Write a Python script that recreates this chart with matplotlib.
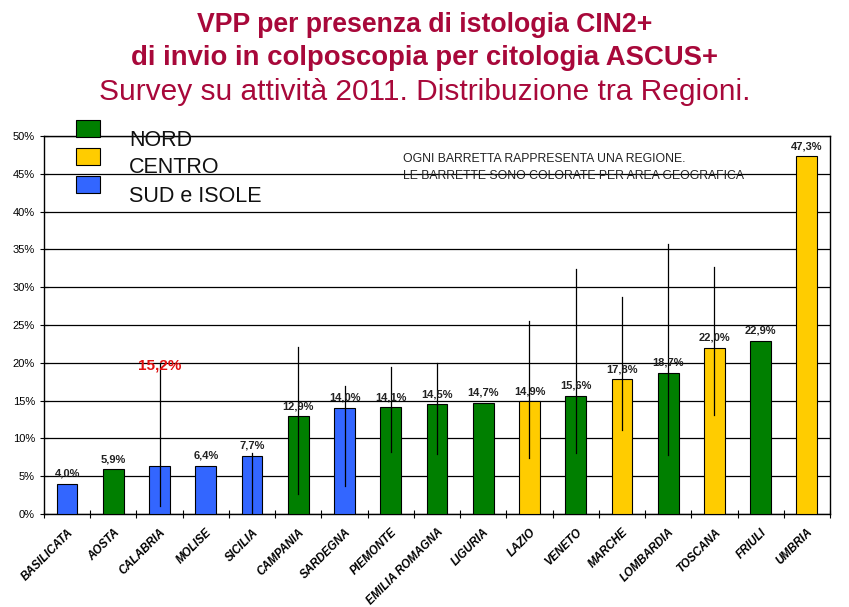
import matplotlib
matplotlib.use("Agg")
import matplotlib.pyplot as plt
from matplotlib.patches import Rectangle

plt.rcParams["font.family"] = ["Liberation Sans", "DejaVu Sans"]

# ----- data -----
regions = ["BASILICATA", "AOSTA", "CALABRIA", "MOLISE", "SICILIA", "CAMPANIA",
           "SARDEGNA", "PIEMONTE", "EMILIA ROMAGNA", "LIGURIA", "LAZIO", "VENETO",
           "MARCHE", "LOMBARDIA", "TOSCANA", "FRIULI", "UMBRIA"]
areas = ["SUD", "NORD", "SUD", "SUD", "SUD", "NORD",
         "SUD", "NORD", "NORD", "NORD", "CENTRO", "NORD",
         "CENTRO", "NORD", "CENTRO", "NORD", "CENTRO"]
vpp = [4.0, 5.9, 6.3, 6.4, 7.7, 12.9, 14.0, 14.1, 14.5, 14.7, 14.9, 15.6,
       17.8, 18.7, 22.0, 22.9, 47.3]
# confidence interval ends (None = not drawn)
ci_low = [None, None, 1.1, None, 0.0, 2.6, 3.7, 8.2, 7.9, None, 7.4, 8.1,
          11.1, 7.8, 13.1, None, None]
ci_high = [None, None, 20.0, None, 8.1, 22.1, 16.9, 19.4, 20.0, None, 25.5, 32.4,
           28.7, 35.7, 32.7, None, None]

area_colors = {"NORD": "#007F00", "CENTRO": "#FFCC00", "SUD": "#3366FF"}
legend_labels = ["NORD", "CENTRO", "SUD e ISOLE"]
legend_keys = ["NORD", "CENTRO", "SUD"]

title_red = "#A8083A"

fig = plt.figure(figsize=(8.49, 6.07), dpi=100)
ax = fig.add_axes([0.0518, 0.1532, 0.9258, 0.6228])

x = list(range(len(regions)))
ax.bar(x, vpp, width=0.45, color=[area_colors[a] for a in areas],
       edgecolor="black", linewidth=0.8, zorder=3)

for i in x:
    if ci_low[i] is not None:
        ax.plot([i, i], [ci_low[i], ci_high[i]], color="black", lw=0.9, zorder=4)
    if i == 2:
        continue
    ax.text(i, vpp[i] + 0.7, f"{vpp[i]:.1f}%".replace(".", ","), ha="center",
            va="bottom", fontsize=8, fontweight="bold", color="#222222", zorder=5)

ax.text(2, 19.6, "15,2%", ha="center", va="center", fontsize=11,
        fontweight="bold", color="#E01010", zorder=5)

ax.set_xlim(-0.5, len(regions) - 0.5)
ax.set_ylim(0, 50)
ax.set_yticks(range(0, 51, 5))
ax.set_yticklabels([f"{v}%" for v in range(0, 51, 5)], fontsize=8)
ax.yaxis.grid(True, color="black", lw=0.9, zorder=0)
ax.set_axisbelow(True)

# ticks between categories, labels at centres
ax.set_xticks([i + 0.5 for i in range(-1, len(regions))])
ax.set_xticklabels([])
ax.set_xticks(x, minor=True)
ax.set_xticklabels(regions, minor=True, rotation=45, ha="right",
                   rotation_mode="anchor", fontsize=8.3, fontweight="bold",
                   fontstyle="italic")
ax.tick_params(axis="x", which="minor", length=0, pad=9)
ax.tick_params(axis="x", which="major", length=6, direction="inout")
ax.tick_params(axis="y", length=6, direction="inout")
for s in ax.spines.values():
    s.set_linewidth(1.0)
    s.set_color("black")

# titles
fig.text(0.5, 1 - 25 / 607, "VPP per presenza di istologia CIN2+", ha="center",
         va="center", fontsize=19.2, fontweight="bold", color=title_red)
fig.text(0.5, 1 - 58 / 607, "di invio in colposcopia per citologia ASCUS+",
         ha="center", va="center", fontsize=19.8, fontweight="bold",
         color=title_red)
fig.text(0.5, 1 - 92 / 607, "Survey su attività 2011. Distribuzione tra Regioni.",
         ha="center", va="center", fontsize=21.5, color=title_red)

# legend
for k, (lab, key) in enumerate(zip(legend_labels, legend_keys)):
    ytop = 120 + k * 28
    fig.patches.append(Rectangle((76 / 849, 1 - (ytop + 17) / 607), 24 / 849,
                                 17 / 607, transform=fig.transFigure,
                                 facecolor=area_colors[key], edgecolor="black",
                                 lw=0.8))
    fig.text(129 / 849, 1 - (ytop + 20) / 607, lab, ha="left", va="center",
             fontsize=15.5, color="#111111")

fig.text(403 / 849, 1 - 159 / 607, "OGNI BARRETTA RAPPRESENTA UNA REGIONE.",
         ha="left", va="center", fontsize=8.8, color="#222222")
fig.text(403 / 849, 1 - 176 / 607, "LE BARRETTE SONO COLORATE PER AREA GEOGRAFICA",
         ha="left", va="center", fontsize=8.8, color="#222222")

fig.savefig("out.png", dpi=100)
